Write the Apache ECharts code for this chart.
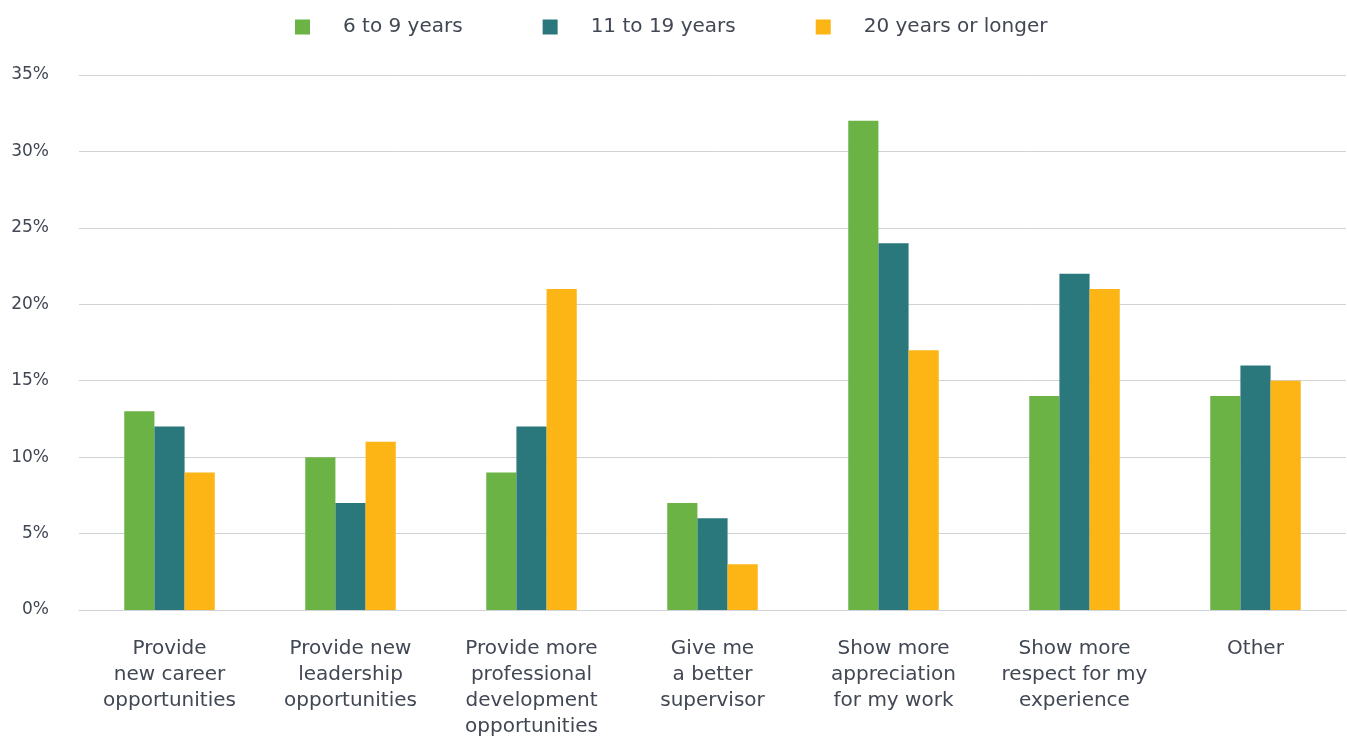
<!DOCTYPE html>
<html><head><meta charset="utf-8">
<script src="https://cdn.jsdelivr.net/npm/echarts@6/dist/echarts.min.js"></script>
<style>html,body{margin:0;padding:0;background:#fff}#c{width:1347px;height:740px}</style>
</head><body><div id="c"></div>
<script>
const categories = ["Provide\nnew career\nopportunities","Provide new\nleadership\nopportunities","Provide more\nprofessional\ndevelopment\nopportunities","Give me\na better\nsupervisor","Show more\nappreciation\nfor my work","Show more\nrespect for my\nexperience","Other"];
const seriesNames = ["6 to 9 years","11 to 19 years","20 years or longer"];
const s1 = [13,10,9,7,32,14,14];
const s2 = [12,7,12,6,24,22,16];
const s3 = [9,11,21,3,17,21,15];
const colors = ["#6AB344","#2A787C","#FDB515"];
const font = "'DejaVu Sans', 'Open Sans', sans-serif";
const txt = "#414753";
const chart = echarts.init(document.getElementById('c'));
chart.setOption({
  animation:false,
  color:colors,
  textStyle:{fontFamily:font},
  legend:{top:12,left:290,itemWidth:15,itemHeight:15,itemGap:80,icon:'rect',
    textStyle:{fontSize:20,color:txt,fontFamily:font,padding:[0,0,0,28]},
    data:seriesNames},
  grid:{left:79,right:1,top:75,bottom:125,containLabel:false},
  xAxis:{type:'category',data:categories,
    axisLine:{show:true,lineStyle:{color:'#cfd2d6',width:1}},
    axisTick:{show:false},
    axisLabel:{interval:0,color:txt,fontSize:20,lineHeight:26,margin:26,fontFamily:font}},
  yAxis:{type:'value',min:0,max:35,interval:5,
    axisLine:{show:false},axisTick:{show:false},
    splitLine:{lineStyle:{color:'#cfd2d6',width:1}},
    axisLabel:{formatter:'{value}%',color:txt,fontSize:17,margin:30,fontFamily:font}},
  series:[
    {name:seriesNames[0],type:'bar',data:s1,barGap:'0%',barCategoryGap:'50%'},
    {name:seriesNames[1],type:'bar',data:s2,barGap:'0%',barCategoryGap:'50%'},
    {name:seriesNames[2],type:'bar',data:s3,barGap:'0%',barCategoryGap:'50%'}
  ]
});
</script></body></html>
